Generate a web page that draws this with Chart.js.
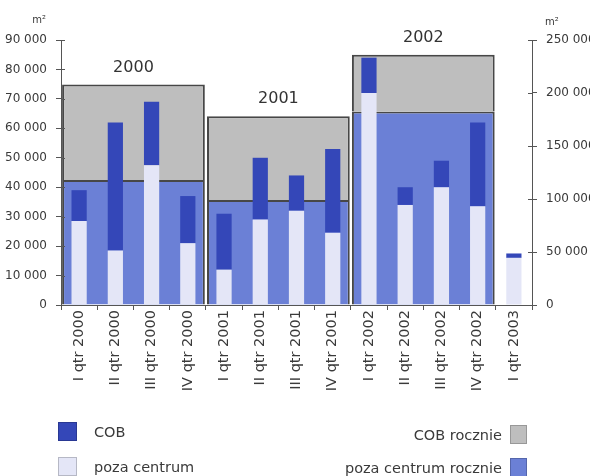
<!DOCTYPE html>
<html>
<head>
<meta charset="utf-8">
<script src="https://cdn.jsdelivr.net/npm/chart.js@4"></script>
<style>
  body { margin: 0; background: #fff; }
  #wrap { position: relative; width: 590px; height: 476px; overflow: hidden; }
  #legend { font-family: 'DejaVu Sans', sans-serif; font-size: 14.5px; color: #3a3a3a; }
  .item { position: absolute; display: flex; align-items: center; height: 19px; white-space: nowrap; }
  .item.left { left: 58px; }
  .item.right { right: 63px; flex-direction: row-reverse; }
  .box { width: 19px; height: 19px; box-sizing: border-box; border: 1px solid rgba(0,0,0,0.2); }
  .item.left .box { margin-right: 17px; }
  .item.right .box { margin-left: 8px; width: 17px; }
</style>
</head>
<body>
<div id="wrap">
  <canvas id="grafico" width="590" height="476"></canvas>
  <div id="legend"></div>
</div>
<script>
const quarters = ['I qtr 2000', 'II qtr 2000', 'III qtr 2000', 'IV qtr 2000',
                  'I qtr 2001', 'II qtr 2001', 'III qtr 2001', 'IV qtr 2001',
                  'I qtr 2002', 'II qtr 2002', 'III qtr 2002', 'IV qtr 2002',
                  'I qtr 2003']
const pozaQ = [28500, 18500, 47500, 21000, 12000, 29000, 32000, 24500, 72000, 34000, 40000, 33500, 16000]
const cobQ  = [10500, 43500, 21500, 16000, 19000, 21000, 12000, 28500, 12000,  6000,  9000, 28500,  1500]

const years = ['2000', '2001', '2002']
const pozaYear = [118000, 99000, 182500]
const cobYear  = [90000, 79000, 53500]

const leftTicks = [0, 10000, 20000, 30000, 40000, 50000, 60000, 70000, 80000, 90000]
const rightTicks = [0, 50000, 100000, 150000, 200000, 250000]

// middle of the quarters of each year, on the category index scale
const yearCenters = years.map(y => {
    const idx = quarters.map((q, i) => q.endsWith(y) ? i : -1).filter(i => i >= 0)
    return idx.reduce((a, b) => a + b, 0) / idx.length
})

const FONT = 'DejaVu Sans'
const TXT = '#3a3a3a'
const AXIS = '#555'

const fmt = v => String(v).replace(/\B(?=(\d{3})+(?!\d))/g, ' ')

// grouped:false -> every bar sits right on its own x value, no side-by-side slots
const data = {
    labels: quarters,
    datasets: [
        { label: 'poza centrum', data: pozaQ, backgroundColor: '#e4e6f7', xAxisID: 'x', yAxisID: 'y',
          grouped: false, barPercentage: 0.42, categoryPercentage: 1 },
        { label: 'COB', data: cobQ, backgroundColor: '#3447b8', xAxisID: 'x', yAxisID: 'y',
          grouped: false, barPercentage: 0.42, categoryPercentage: 1 },
        { label: 'poza centrum rocznie', data: years.map((y, i) => ({ x: yearCenters[i], y: pozaYear[i] })),
          backgroundColor: '#6b80d6', borderColor: '#474747', borderWidth: 2,
          xAxisID: 'x2', yAxisID: 'y2', grouped: false, barPercentage: 0.985, categoryPercentage: 1 },
        { label: 'COB rocznie', data: years.map((y, i) => ({ x: yearCenters[i], y: cobYear[i] })),
          backgroundColor: '#bebebe', borderColor: '#474747', borderWidth: 2,
          xAxisID: 'x2', yAxisID: 'y2', grouped: false, barPercentage: 0.985, categoryPercentage: 1 }
    ]
}

// year above each annual box + m2 units + small inner tick marks
const extras = {
    id: 'extras',
    afterDatasetsDraw(chart) {
        const c = chart.ctx
        const meta = chart.getDatasetMeta(3)
        c.save()
        c.fillStyle = '#333'
        c.font = '16px ' + FONT
        c.textAlign = 'center'
        c.textBaseline = 'alphabetic'
        meta.data.forEach((el, i) => c.fillText(years[i], el.x, el.y - 13))
        c.restore()
    },
    afterDraw(chart) {
        const c = chart.ctx
        const a = chart.chartArea
        c.save()
        c.strokeStyle = AXIS
        c.lineWidth = 1
        c.beginPath()
        chart.scales.y.ticks.forEach(t => {
            const py = Math.round(chart.scales.y.getPixelForValue(t.value)) + 0.5
            c.moveTo(a.left, py); c.lineTo(a.left + 4, py)
        })
        chart.scales.y2.ticks.forEach(t => {
            const py = Math.round(chart.scales.y2.getPixelForValue(t.value)) + 0.5
            c.moveTo(a.right - 4, py); c.lineTo(a.right, py)
        })
        c.stroke()
        c.fillStyle = TXT
        c.font = '10px ' + FONT
        c.textBaseline = 'middle'
        c.textAlign = 'right'
        c.fillText('m²', 46, 20)
        c.textAlign = 'left'
        c.fillText('m²', 545, 22)
        c.restore()
    }
}

const config = {
    type: 'bar',
    data,
    plugins: [extras],
    options: {
        responsive: false,
        animation: false,
        layout: { padding: { top: 40, bottom: 71, left: 0, right: 0 } },
        scales: {
            x: {
                type: 'category',
                position: 'bottom',
                stacked: true,
                grid: { drawOnChartArea: false, tickLength: 5, color: AXIS },
                border: { color: AXIS },
                ticks: { color: TXT, font: { family: FONT, size: 14.5 }, minRotation: 90, maxRotation: 90,
                         autoSkip: false, padding: 0 },
                afterFit: s => { s.height = 100 }
            },
            x2: {
                type: 'linear',
                display: false,
                offset: false,
                stacked: true,
                min: -0.5,
                max: quarters.length - 0.5,
                afterBuildTicks: s => { s.ticks = yearCenters.map(v => ({ value: v })) }
            },
            y: {
                position: 'left',
                stacked: true,
                min: 0, max: 90000,
                afterBuildTicks: s => { s.ticks = leftTicks.map(v => ({ value: v })) },
                grid: { drawOnChartArea: false, tickLength: 5, color: AXIS },
                border: { color: AXIS },
                ticks: { color: TXT, font: { family: FONT, size: 12 }, padding: 9, callback: fmt },
                afterFit: s => { s.width = 61 }
            },
            y2: {
                position: 'right',
                stacked: true,
                min: 0, max: 250000,
                afterBuildTicks: s => { s.ticks = rightTicks.map(v => ({ value: v })) },
                grid: { drawOnChartArea: false, tickLength: 5, color: AXIS },
                border: { color: AXIS },
                ticks: { color: TXT, font: { family: FONT, size: 12 }, padding: 9, callback: fmt },
                afterFit: s => { s.width = 58 }
            }
        },
        plugins: {
            legend: { display: false },
            title: { display: false },
            tooltip: { enabled: false }
        }
    }
}

const meuGrafico = new Chart(document.getElementById('grafico'), config)

// html legend, two columns like the original
const legendSlots = [
    { ds: 1, cls: 'left', top: 422 },
    { ds: 0, cls: 'left', top: 457 },
    { ds: 3, cls: 'right', top: 425 },
    { ds: 2, cls: 'right', top: 458 }
]
const legendEl = document.getElementById('legend')
legendSlots.forEach(s => {
    const d = meuGrafico.data.datasets[s.ds]
    const item = document.createElement('div')
    item.className = 'item ' + s.cls
    item.style.top = s.top + 'px'
    const box = document.createElement('span')
    box.className = 'box'
    box.style.background = d.backgroundColor
    const txt = document.createElement('span')
    txt.textContent = d.label
    item.appendChild(box)
    item.appendChild(txt)
    legendEl.appendChild(item)
})
</script>
</body>
</html>
